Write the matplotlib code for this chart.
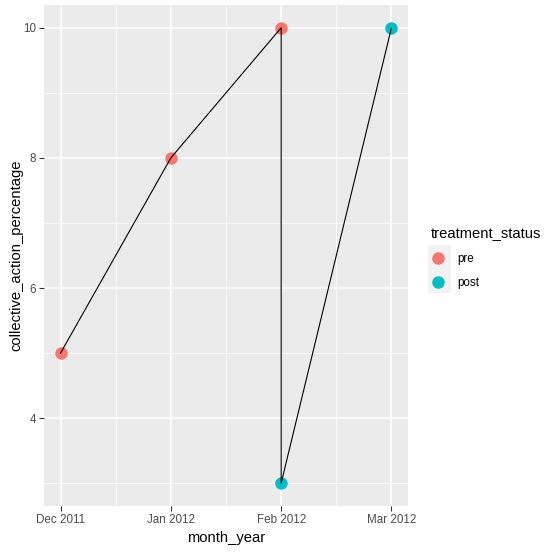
import matplotlib
matplotlib.use("Agg")
import matplotlib.pyplot as plt
from matplotlib.lines import Line2D
from matplotlib.patches import Rectangle

month_labels = ["Dec 2011", "Jan 2012", "Feb 2012", "Mar 2012"]
month_year = ["Dec 2011", "Jan 2012", "Feb 2012", "Feb 2012", "Mar 2012"]
collective_action_percentage = [5, 8, 10, 3, 10]
treatment_status = ["pre", "pre", "pre", "post", "post"]
colors = {"pre": "#F8766D", "post": "#00BFC4"}

plt.rcParams['font.family'] = ['Liberation Sans', 'DejaVu Sans']

fig = plt.figure(figsize=(5.53, 5.52), dpi=100)
W, H = 553, 552
ax = fig.add_axes([44 / W, 1 - 506 / H, (408 - 44) / W, (506 - 5) / H])
ax.set_facecolor("#EBEBEB")

xpos = [month_labels.index(m) for m in month_year]

# grid
for v in [0, 1, 2, 3]:
    ax.axvline(v, color="white", lw=1.1, zorder=0)
for v in [0.5, 1.5, 2.5]:
    ax.axvline(v, color="white", lw=0.55, zorder=0)
for v in [4, 6, 8, 10]:
    ax.axhline(v, color="white", lw=1.1, zorder=0)
for v in [3, 5, 7, 9]:
    ax.axhline(v, color="white", lw=0.55, zorder=0)

for x, y, s in zip(xpos, collective_action_percentage, treatment_status):
    ax.scatter(x, y, s=80, color=colors[s], zorder=2, linewidths=0)
ax.plot(xpos, collective_action_percentage, color="black", lw=0.8, zorder=3)

xr = 3 * 0.05
ax.set_xlim(-xr, 3 + xr)
yr = 7 * 0.05
ax.set_ylim(3 - yr, 10 + yr)

ax.set_xticks(range(len(month_labels)))
ax.set_xticklabels(month_labels)
ax.set_yticks([4, 6, 8, 10])
ax.tick_params(axis="both", colors="#333333", length=3.5, width=0.8, labelsize=8.4,
               labelcolor="#4D4D4D", pad=2)
for sp in ax.spines.values():
    sp.set_visible(False)

ax.set_xlabel("month_year", fontsize=10.6, labelpad=4)
ax.set_ylabel("collective_action_percentage", fontsize=10.6)
ax.yaxis.set_label_coords((23 - 44) / 364, 0.5)

# legend key background
fig.patches.append(Rectangle((428 / W, 1 - 293 / H), 23 / W, 48 / H,
                             transform=fig.transFigure, facecolor="#F2F2F2",
                             edgecolor="none", zorder=0))

handles = [Line2D([0], [0], marker="o", linestyle="", markersize=9,
                  markerfacecolor=colors[k], markeredgewidth=0) for k in ["pre", "post"]]
leg = fig.legend(handles, ["pre", "post"], title="treatment_status",
                 loc="upper left", bbox_to_anchor=(420 / W, 1 - 217 / H),
                 frameon=False, fontsize=8.4, title_fontsize=10.6,
                 handlelength=1.2, handletextpad=1.1, labelspacing=1.0,
                 borderpad=0.4)
leg._legend_box.align = "left"

fig.savefig("out.png", dpi=100)
